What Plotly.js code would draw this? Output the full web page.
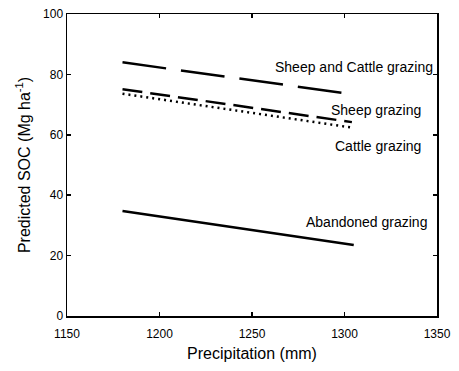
<!DOCTYPE html>
<html>
<head>
<meta charset="utf-8">
<script src="https://cdn.plot.ly/plotly-3.0.1.min.js"></script>
<style>html,body{margin:0;padding:0;background:#fff}#chart{width:459px;height:371px}</style>
</head>
<body>
<div id="chart"></div>
<script>
var sheepCattleX = [1180, 1300];
var sheepX = [1180, 1304];
var cattleX = [1180, 1305];
var abandonedX = [1180, 1305];
var sheepCattle = [84, 73.8];
var sheep = [75.1, 64.2];
var cattle = [73.6, 62.3];
var abandoned = [34.8, 23.5];
var seriesNames = ["Sheep and Cattle grazing", "Sheep grazing", "Cattle grazing", "Abandoned grazing"];
var labelX = [1305, 1317, 1318, 1312];
var labelY = [82.5, 68.2, 56.3, 31.2];
var xTicks = [1150, 1200, 1250, 1300, 1350];
var yTicks = [0, 20, 40, 60, 80, 100];

var traces = [
  {x: sheepCattleX, y: sheepCattle, mode: 'lines', line: {color: '#000', width: 2.5, dash: '44px,15px'}},
  {x: sheepX, y: sheep, mode: 'lines', line: {color: '#000', width: 2.5, dash: '20px,8px'}},
  {x: cattleX, y: cattle, mode: 'lines', line: {color: '#000', width: 2.5, dash: '2px,4px'}},
  {x: abandonedX, y: abandoned, mode: 'lines', line: {color: '#000', width: 2.5}}
];

var annotations = seriesNames.map(function(n, i) {
  return {x: labelX[i], y: labelY[i], xref: 'x', yref: 'y', text: n, showarrow: false,
          font: {family: 'Liberation Sans, Arial', size: 14, color: '#000'}};
});

var axisCommon = {
  showgrid: false, zeroline: false, showline: true, linecolor: '#000', linewidth: 1.5,
  mirror: 'ticks', ticks: 'inside', ticklen: 4, tickcolor: '#000', tickwidth: 1.5,
  tickfont: {family: 'Liberation Sans, Arial', size: 12, color: '#000'}
};

var layout = {
  width: 459, height: 371,
  margin: {l: 67, r: 22, t: 14, b: 55},
  showlegend: false,
  paper_bgcolor: '#fff', plot_bgcolor: '#fff',
  xaxis: Object.assign({}, axisCommon, {range: [1150, 1350], tickvals: xTicks, ticklabelstandoff: 6,
    title: {text: 'Precipitation (mm)', font: {family: 'Liberation Sans, Arial', size: 16, color: '#000'}, standoff: 8}}),
  yaxis: Object.assign({}, axisCommon, {range: [0, 100], tickvals: yTicks,
    title: {text: 'Predicted SOC (Mg ha<sup>-1</sup>)', font: {family: 'Liberation Sans, Arial', size: 16, color: '#000'}, standoff: 8}}),
  annotations: annotations
};

Plotly.newPlot('chart', traces, layout, {staticPlot: true, displayModeBar: false});
</script>
</body>
</html>
